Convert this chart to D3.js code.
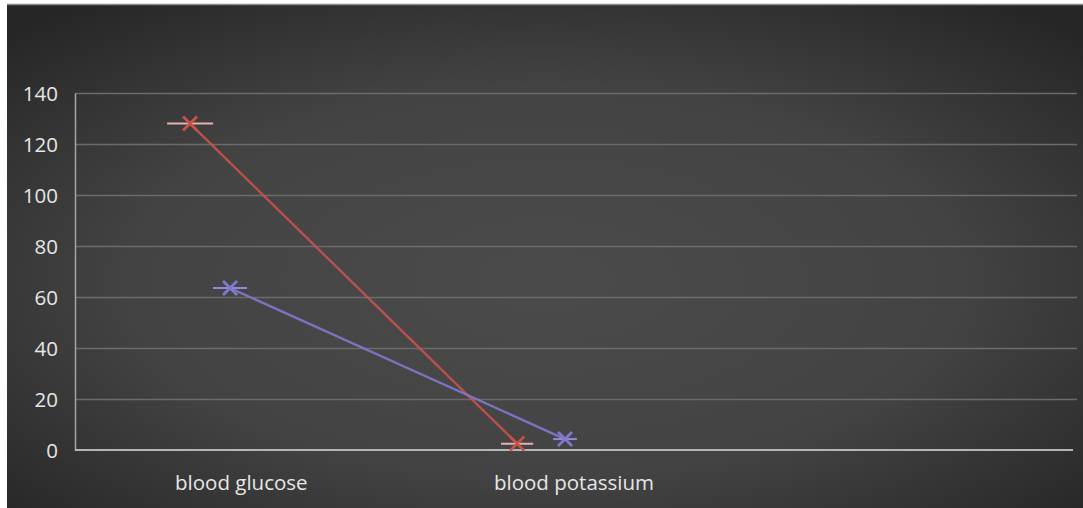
<!DOCTYPE html>
<html>
<head>
<meta charset="utf-8">
<script src="https://cdn.jsdelivr.net/npm/d3@7"></script>
<style>
  body { margin: 0; background: #ffffff; }
  svg { display: block; }
  text { font-family: "Open Sans", "DejaVu Sans", sans-serif; fill: #e6e6e6; }
</style>
</head>
<body>
<svg id="chart" width="1083" height="508"></svg>
<script>
// Categories on the x axis (third slot is empty in the original).
var categories = ['blood glucose', 'blood potassium', ''];
// Y axis ticks.
var yTicks = [0, 20, 40, 60, 80, 100, 120, 140];

// Series values.
var redValues = [128, 2.5];
var blueValues = [63.5, 4.3];
// Horizontal placement of each point, in category units (0 = left edge of plot).
var redX = [0.346, 1.329];
var blueX = [0.466, 1.473];

var WIDTH = 1083;
var HEIGHT = 508;
var PLOT = { left: 75, right: 1073, top: 93, bottom: 450 };

var svg = d3.select('#chart');

// Background with a soft radial glow.
var defs = svg.append('defs');
var grad = defs.append('radialGradient')
  .attr('id', 'bg')
  .attr('cx', '50%').attr('cy', '55%').attr('r', '70%');
grad.append('stop').attr('offset', '0%').attr('stop-color', '#4b4b4b');
grad.append('stop').attr('offset', '55%').attr('stop-color', '#434343');
grad.append('stop').attr('offset', '100%').attr('stop-color', '#262626');

svg.append('rect')
  .attr('x', 7).attr('y', 4)
  .attr('width', WIDTH - 7).attr('height', HEIGHT - 4)
  .attr('fill', 'url(#bg)');
svg.append('line')
  .attr('x1', 7).attr('x2', WIDTH).attr('y1', 4.5).attr('y2', 4.5)
  .attr('stroke', '#8a8a8a').attr('stroke-width', 1.5);

// Scales.
var x = d3.scaleLinear()
  .domain([0, categories.length])
  .range([PLOT.left, PLOT.right]);
var y = d3.scaleLinear()
  .domain([0, 140])
  .range([PLOT.bottom, PLOT.top]);

// Gridlines.
svg.append('g')
  .selectAll('line')
  .data(yTicks.filter(function(d) { return d > 0; }))
  .enter()
  .append('line')
  .attr('x1', PLOT.left).attr('x2', PLOT.right + 4)
  .attr('y1', function(d) { return Math.round(y(d)) + 0.5; })
  .attr('y2', function(d) { return Math.round(y(d)) + 0.5; })
  .attr('stroke', '#6b6b6b')
  .attr('stroke-width', 1.3);

// Y axis.
var yAxis = svg.append('g')
  .attr('transform', 'translate(' + PLOT.left + ',0)')
  .call(d3.axisLeft(y).tickValues(yTicks).tickSize(0).tickPadding(17));
yAxis.select('.domain').attr('stroke', '#a5a5a5').attr('stroke-width', 1.5);
yAxis.selectAll('text')
  .attr('font-size', 20.5)
  .attr('font-weight', 500)
  .attr('fill', '#ececec')
  .attr('dy', '0.35em');

// X axis line.
svg.append('line')
  .attr('x1', PLOT.left).attr('x2', PLOT.right)
  .attr('y1', PLOT.bottom).attr('y2', PLOT.bottom)
  .attr('stroke', '#b5b5b5')
  .attr('stroke-width', 2);

// Category labels.
svg.append('g')
  .selectAll('text')
  .data(categories)
  .enter()
  .append('text')
  .attr('x', function(d, i) { return x(i + 0.5); })
  .attr('y', PLOT.bottom + 40)
  .attr('text-anchor', 'middle')
  .attr('font-size', 20.5)
  .attr('font-weight', 500)
  .attr('fill', '#ececec')
  .text(function(d) { return d; });

// Series.
var series = [
  { values: redValues, xs: redX, color: '#c9524a', bar: '#e8b0aa', barWidth: 46 },
  { values: blueValues, xs: blueX, color: '#7f78cc', bar: '#8f88dd', barWidth: 34 }
];

var line = d3.line()
  .x(function(d) { return x(d.x); })
  .y(function(d) { return y(d.v); });

series.forEach(function(s) {
  var pts = s.values.map(function(v, i) { return { v: v, x: s.xs[i] }; });

  svg.append('path')
    .datum(pts)
    .attr('d', line)
    .attr('fill', 'none')
    .attr('stroke', s.color)
    .attr('stroke-width', 2.4)
    .attr('opacity', 0.9);

  var marks = svg.append('g')
    .selectAll('g')
    .data(pts)
    .enter()
    .append('g')
    .attr('transform', function(d) {
      return 'translate(' + x(d.x) + ',' + y(d.v) + ')';
    });

  marks.append('line')
    .attr('x1', function(d, i) { return -(i === 0 ? s.barWidth : s.barWidth * 0.7) / 2; })
    .attr('x2', function(d, i) { return (i === 0 ? s.barWidth : s.barWidth * 0.7) / 2; })
    .attr('y1', 0).attr('y2', 0)
    .attr('stroke', s.bar)
    .attr('stroke-width', 2);
  marks.append('path')
    .attr('d', 'M-7,-7L7,7M-7,7L7,-7')
    .attr('stroke', s.color)
    .attr('stroke-width', 2.8);
});
</script>
</body>
</html>
